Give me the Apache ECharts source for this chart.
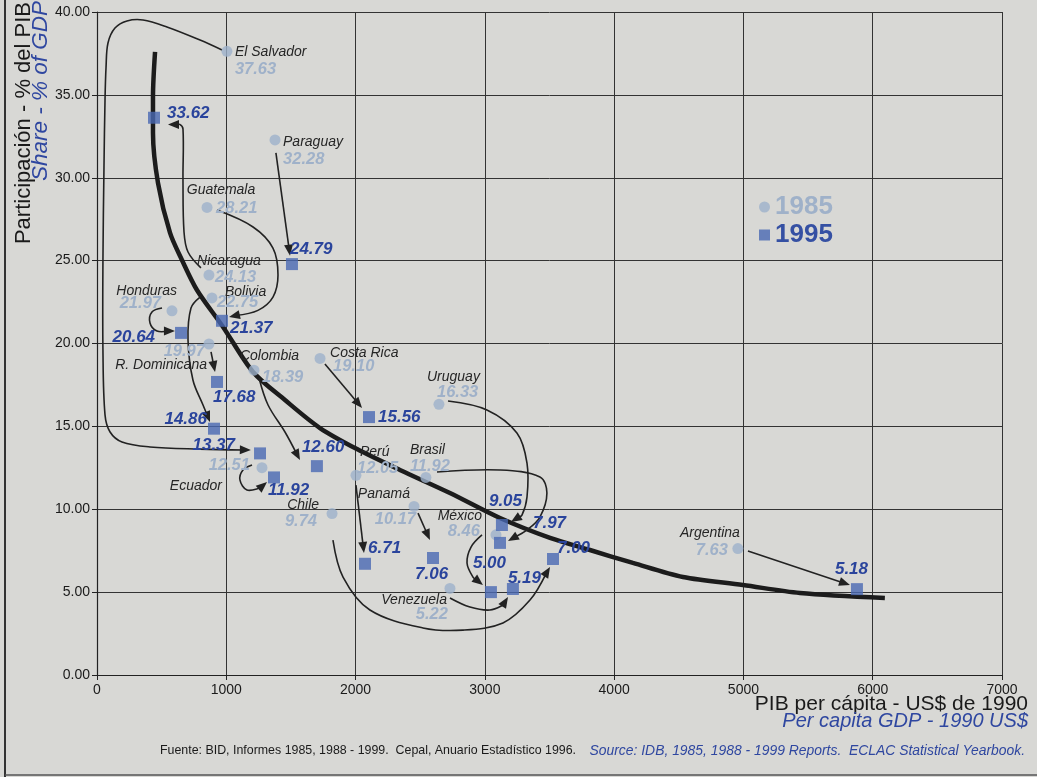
<!DOCTYPE html>
<html>
<head>
<meta charset="utf-8">
<script src="https://cdn.jsdelivr.net/npm/echarts@6.0.0/dist/echarts.min.js"></script>
<style>
html,body{margin:0;padding:0;background:#d8d8d5;}
#chart{width:1037px;height:777px;}
</style>
</head>
<body>
<div id="chart"></div>
<script>
// ---- data ----
const countries = ['El Salvador','Paraguay','Guatemala','Nicaragua','Bolivia','Honduras','R. Dominicana','Colombia','Costa Rica','Uruguay','Perú','Brasil','Ecuador','Panamá','Chile','México','Venezuela','Argentina'];
const gdp1985   = [1005,1377,851,866,889,580,866,1214,1725,2645,2003,2544,1276,2452,1818,3086,2730,4957];
const share1985 = [37.63,32.28,28.21,24.13,22.75,21.97,19.97,18.39,19.10,16.33,12.05,11.92,12.51,10.17,9.74,8.46,5.22,7.63];
const gdp1995   = [1261,1508,967,441,905,650,928,1701,2104,3132,2073,3117,1369,2599,3527,3047,3217,5878];
const share1995 = [13.37,24.79,21.37,33.62,14.86,20.64,17.68,12.60,15.56,9.05,6.71,7.97,11.92,7.06,7.00,5.00,5.19,5.18];

// thick trend curve
const trendGdp   = [449,433,433,472,565,657,773,975,1207,1454,1725,2011,2343,2730,3117,3504,3813,4145,4532,4996,5437,6094];
const trendShare = [37.59,34.87,32.70,29.68,26.67,25.04,23.23,21.0,18.28,16.59,14.90,13.63,12.37,10.98,9.47,8.27,7.54,6.76,5.91,5.43,4.95,4.65];

// arrow routes 1985 -> 1995 (data coordinates, GDP / share)
const arrowRoutes = [
  [[967,37.71],[797,38.31],[541,39.1],[356,39.52],[232,39.46],[139,39.03],[85,38.13],[70,36.68],[62,34.69],[54,30.65],[46,25.04],[46,19.6],[62,15.69],[101,14.66],[193,14.06],[410,13.76],[797,13.63],[1190,13.57]],
  [[1384,31.5],[1493,25.3]],
  [[928,28.05],[1207,27.03],[1361,25.76],[1400,24.13],[1361,22.8],[1245,22.0],[1021,21.6]],
  [[804,24.56],[704,25.52],[673,26.73],[665,29.86],[665,32.95],[640,33.22],[549,33.22]],
  [[797,22.8],[727,22.14],[704,20.21],[742,17.8],[820,16.29],[874,15.26]],
  [[503,22.14],[425,21.9],[410,21.24],[464,20.75],[603,20.75]],
  [[882,19.49],[913,18.28]],
  [[1253,17.92],[1323,16.29],[1454,14.66],[1570,12.97]],
  [[1763,18.76],[2050,16.11]],
  [[2715,16.53],[3016,15.99],[3248,14.6],[3326,12.79],[3326,10.74],[3287,9.65],[3202,9.23]],
  [[2003,11.46],[2065,7.36]],
  [[2630,12.25],[3117,12.37],[3426,11.95],[3480,10.98],[3426,9.53],[3326,8.75],[3179,8.08]],
  [[1199,12.67],[1129,12.37],[1106,11.76],[1160,11.16],[1261,11.28],[1315,11.64]],
  [[2483,9.77],[2575,8.14]],
  [[1825,8.14],[1903,5.91],[2111,3.92],[2521,2.84],[2831,2.71],[3140,3.14],[3349,4.52],[3504,6.52]],
  [[2978,8.45],[2893,7.72],[2862,6.76],[2908,5.91],[2985,5.43]],
  [[2730,4.65],[2885,4.1],[3039,3.92],[3140,4.22],[3179,4.71]],
  [[5035,7.48],[5824,5.43]]
];

// ---- label placement (pixel offsets from the mark, alignment) ----
const nameLayout = [[8,1,'left'],[8,2,'left'],[14,-17,'center'],[20,-14,'center'],[13,-6,'left'],[5,-20,'right'],[-2,21,'right'],[-14,-14,'left'],[10,-5,'left'],[-12,-27,'left'],[4,-23,'left'],[-16,-27,'left'],[-40,18,'right'],[-4,-12,'right'],[-13,-8,'right'],[-14,-19,'right'],[-3,12,'right'],[2,-15,'right']];
const v85Layout = [[8,18,'left'],[8,19,'left'],[9,1,'left'],[6,2,'left'],[5,5,'left'],[-11,-7,'right'],[-4,7,'right'],[8,7,'left'],[13,8,'left'],[-2,-12,'left'],[1,-7,'left'],[-16,-11,'left'],[-12,-2,'right'],[2,13,'right'],[-15,8,'right'],[-16,-3,'right'],[-2,26,'right'],[-10,2,'right']];
const v95Layout = [[-25,-8,'right'],[-2,-15,'left'],[8,8,'left'],[13,-4,'left'],[-7,-9,'right'],[-26,4,'right'],[-4,15,'left'],[-15,-19,'left'],[9,0,'left'],[-13,-24,'left'],[3,-15,'left'],[33,-20,'left'],[-6,13,'left'],[-18,16,'left'],[4,-11,'left'],[-18,-29,'left'],[-5,-11,'left'],[-22,-20,'left']];

const FONT = '"Liberation Sans", Arial, Helvetica, sans-serif';
const C85 = '#9db1ca', C85T = '#9fb1c9', C95 = '#4a69b3', C95T = '#2a449c', BLUE = '#2f47a0';

function zip(a,b){ return a.map((v,i)=>[v,b[i]]); }

function textSeries(xs, ys, texts, layout, font, color){
  return {
    type:'custom', coordinateSystem:'cartesian2d', silent:true, z:7, clip:false,
    data: xs.map((x,i)=>[x, ys[i]]),
    encode:{x:0,y:1},
    renderItem:function(params, api){
      const i = params.dataIndex;
      const p = api.coord([api.value(0), api.value(1)]);
      const L = layout[i];
      return {type:'text', x:p[0]+L[0], y:p[1]+L[1],
        style:{text:texts[i], fill:color, font:font, align:L[2], textAlign:L[2], verticalAlign:'middle', textVerticalAlign:'middle'}};
    }
  };
}

function txt(x, y, text, font, fill, align, rot){
  return {type:'text', x:x, y:y, rotation:rot||0,
    style:{text:text, font:font, fill:fill, align:align, textAlign:align, verticalAlign:'middle', textVerticalAlign:'middle'}};
}

const chart = echarts.init(document.getElementById('chart'), null, {renderer:'canvas'});
const option = {
  animation:false,
  backgroundColor:'#d8d8d5',
  grid:{left:97, right:35, top:12, bottom:102},
  xAxis:{type:'value', min:0, max:7000, interval:1000,
    axisLine:{show:true, lineStyle:{color:'#222', width:1.2}},
    axisTick:{show:true, length:5, lineStyle:{color:'#222'}},
    axisLabel:{color:'#1a1a1a', fontSize:14, fontFamily:FONT, margin:8, formatter:v=>String(v)},
    splitLine:{show:true, lineStyle:{color:'#333', width:1}}},
  yAxis:{type:'value', min:0, max:40, interval:5,
    axisLine:{show:true, lineStyle:{color:'#222', width:1.2}},
    axisTick:{show:true, length:5, lineStyle:{color:'#222'}},
    axisLabel:{color:'#1a1a1a', fontSize:14, fontFamily:FONT, margin:7, formatter:v=>v.toFixed(2)},
    splitLine:{show:true, lineStyle:{color:'#333', width:1}}},
  legend:{left:754, top:189, orient:'vertical', itemWidth:11, itemHeight:11, itemGap:2, selectedMode:false,
    textStyle:{fontSize:26, fontWeight:'bold', fontFamily:FONT},
    data:[{name:'1985', icon:'circle', textStyle:{color:C85T}}, {name:'1995', icon:'rect', textStyle:{color:'#3550a3'}}]},
  graphic:[
    {type:'line', shape:{x1:5,y1:0,x2:5,y2:777}, style:{stroke:'#333', lineWidth:2}},
    {type:'line', shape:{x1:5,y1:775,x2:1037,y2:775}, style:{stroke:'#555', lineWidth:1.5}},
    txt(24, 2, 'Participación - % del PIB', '22px '+FONT, '#1a1a1a', 'right', Math.PI/2),
    txt(41, 1, 'Share - % of GDP', 'italic 22.5px '+FONT, BLUE, 'right', Math.PI/2),
    txt(1028, 704, 'PIB per cápita - US$ de 1990', '21px '+FONT, '#1a1a1a', 'right'),
    txt(1028, 721, 'Per capita GDP - 1990 US$', 'italic 20px '+FONT, BLUE, 'right'),
    txt(160, 751, 'Fuente: BID, Informes 1985, 1988 - 1999.  Cepal, Anuario Estadístico 1996.', '12.4px '+FONT, '#1a1a1a', 'left'),
    txt(1025, 751, 'Source: IDB, 1985, 1988 - 1999 Reports.  ECLAC Statistical Yearbook.', 'italic 13.9px '+FONT, BLUE, 'right')
  ],
  series:[
    {name:'trend', type:'line', data:zip(trendGdp, trendShare), smooth:0.3, symbol:'none', silent:true, z:3,
      lineStyle:{color:'#1c1c1c', width:4.5}},
    {name:'arrows', type:'custom', coordinateSystem:'cartesian2d', silent:true, z:4, clip:false,
      data: arrowRoutes.map(r=>[r[0][0], r[0][1]]), encode:{x:0,y:1},
      renderItem:function(params, api){
        const route = arrowRoutes[params.dataIndex];
        const pts = route.map(p=>api.coord(p));
        const n = pts.length;
        const tip = pts[n-1], prev = pts[n-2];
        let dx = tip[0]-prev[0], dy = tip[1]-prev[1];
        const len = Math.sqrt(dx*dx+dy*dy) || 1; dx/=len; dy/=len;
        const hl = 11, hw = 4.5;
        const bx = tip[0]-dx*hl, by = tip[1]-dy*hl;
        const linePts = pts.slice(0, n-1).concat([[tip[0]-dx*hl*0.6, tip[1]-dy*hl*0.6]]);
        return {type:'group', children:[
          {type:'polyline', shape:{points:linePts, smooth: n>2 ? 0.35 : 0}, style:{stroke:'#222', lineWidth:1.6, fill:null}},
          {type:'polygon', shape:{points:[tip,[bx-dy*hw, by+dx*hw],[bx+dy*hw, by-dx*hw]]}, style:{fill:'#222'}}
        ]};
      }},
    {name:'1985', type:'scatter', data:zip(gdp1985, share1985), symbol:'circle', symbolSize:11, z:5,
      itemStyle:{color:C85}},
    {name:'1995', type:'scatter', data:zip(gdp1995, share1995), symbol:'rect', symbolSize:12, z:5,
      itemStyle:{color:C95}},
    textSeries(gdp1985, share1985, countries, nameLayout, 'italic 14px '+FONT, '#262626'),
    textSeries(gdp1985, share1985, share1985.map(v=>v.toFixed(2)), v85Layout, 'italic bold 16.5px '+FONT, C85T),
    textSeries(gdp1995, share1995, share1995.map(v=>v.toFixed(2)), v95Layout, 'italic bold 17px '+FONT, C95T)
  ]
};
chart.setOption(option);
</script>
</body>
</html>
